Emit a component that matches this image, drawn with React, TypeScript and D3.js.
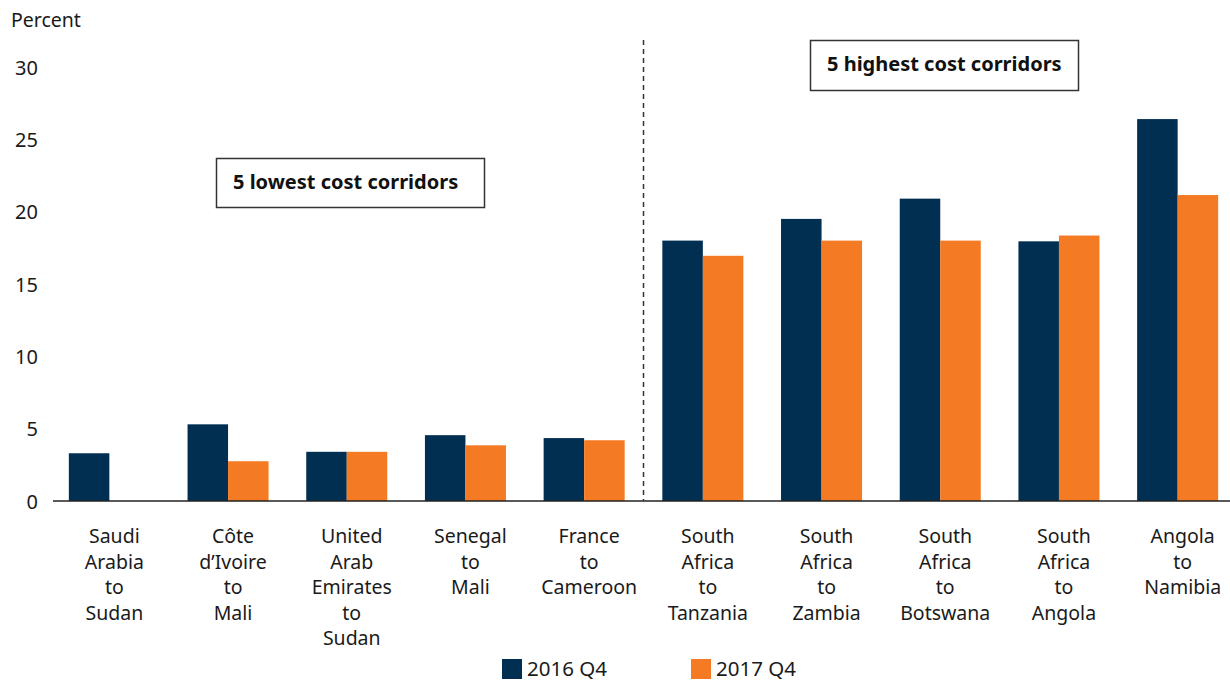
import React from 'react';
import * as d3 from 'd3';

const W = 1230;
const H = 681;

const categories = [
  'Saudi Arabia to Sudan',
  'Côte d’Ivoire to Mali',
  'United Arab Emirates to Sudan',
  'Senegal to Mali',
  'France to Cameroon',
  'South Africa to Tanzania',
  'South Africa to Zambia',
  'South Africa to Botswana',
  'South Africa to Angola',
  'Angola to Namibia',
];
const labelLines = [
  ['Saudi', 'Arabia', 'to', 'Sudan'],
  ['Côte', 'd’Ivoire', 'to', 'Mali'],
  ['United', 'Arab', 'Emirates', 'to', 'Sudan'],
  ['Senegal', 'to', 'Mali'],
  ['France', 'to', 'Cameroon'],
  ['South', 'Africa', 'to', 'Tanzania'],
  ['South', 'Africa', 'to', 'Zambia'],
  ['South', 'Africa', 'to', 'Botswana'],
  ['South', 'Africa', 'to', 'Angola'],
  ['Angola', 'to', 'Namibia'],
];
const series = ['2016 Q4', '2017 Q4'];
const values2016 = [3.3, 5.3, 3.4, 4.55, 4.35, 18.0, 19.5, 20.9, 17.95, 26.4];
const values2017: (number | null)[] = [null, 2.75, 3.4, 3.85, 4.2, 16.95, 18.0, 18.0, 18.35, 21.15];
const yTicks = [0, 5, 10, 15, 20, 25, 30];

const colors = ['#002F52', '#F47B23'];
const font = '"Noto Sans", Lato, sans-serif';

export default function App() {
  const x = d3.scaleBand<string>().domain(categories).range([50, 1237]).paddingInner(0).paddingOuter(0);
  const x1 = d3.scaleBand<string>().domain(series).range([0, x.bandwidth()]).paddingInner(0).paddingOuter(0.465);
  const y = d3.scaleLinear().domain([0, 30]).range([501, 67]);

  const rows = categories.map((c, i) => ({ c, vals: [values2016[i], values2017[i]] }));
  const divider = (x(categories[4])! + x.bandwidth() + x(categories[5])!) / 2;

  return (
    <svg width={W} height={H} style={{ position: 'absolute', left: 0, top: 0, background: '#fff' }} fontFamily={font}>
      <text x={11} y={27} fontSize={19.5} fill="#1a1a1a">Percent</text>

      {yTicks.map((t) => (
        <text key={t} x={38} y={y(t)} fontSize={20} textAnchor="end" dominantBaseline="central" fill="#1a1a1a">
          {t}
        </text>
      ))}

      {rows.map((r) => (
        <g key={r.c} transform={`translate(${x(r.c)},0)`}>
          {r.vals.map((v, j) =>
            v == null ? null : (
              <rect
                key={j}
                x={x1(series[j])}
                y={y(v)}
                width={x1.bandwidth()}
                height={y(0) - y(v)}
                fill={colors[j]}
              />
            )
          )}
        </g>
      ))}

      <line x1={53} x2={1230} y1={y(0)} y2={y(0)} stroke="#222" strokeWidth={1.6} />
      <line x1={divider} x2={divider} y1={40} y2={y(0)} stroke="#333" strokeWidth={1.5} strokeDasharray="5,4" />

      {categories.map((c, i) => (
        <text key={c} x={x(c)! + x.bandwidth() / 2 + 5} y={543} fontSize={19.5} textAnchor="middle" fill="#1a1a1a">
          {labelLines[i].map((l, k) => (
            <tspan key={k} x={x(c)! + x.bandwidth() / 2 + 5} dy={k === 0 ? 0 : 25.5}>
              {l}
            </tspan>
          ))}
        </text>
      ))}

      <rect x={216.5} y={158.5} width={268} height={49} fill="#fff" stroke="#333" strokeWidth={1.5} />
      <text x={233} y={189} fontSize={20} fontWeight="bold" fill="#111">5 lowest cost corridors</text>

      <rect x={810.5} y={40.5} width={268} height={50} fill="#fff" stroke="#333" strokeWidth={1.5} />
      <text x={827} y={71} fontSize={20} fontWeight="bold" fill="#111">5 highest cost corridors</text>

      {series.map((s, i) => (
        <g key={s} transform={`translate(${502 + i * 189},659)`}>
          <rect width={20} height={20} fill={colors[i]} />
          <text x={25} y={17} fontSize={20.5} fill="#1a1a1a">{s}</text>
        </g>
      ))}
    </svg>
  );
}
